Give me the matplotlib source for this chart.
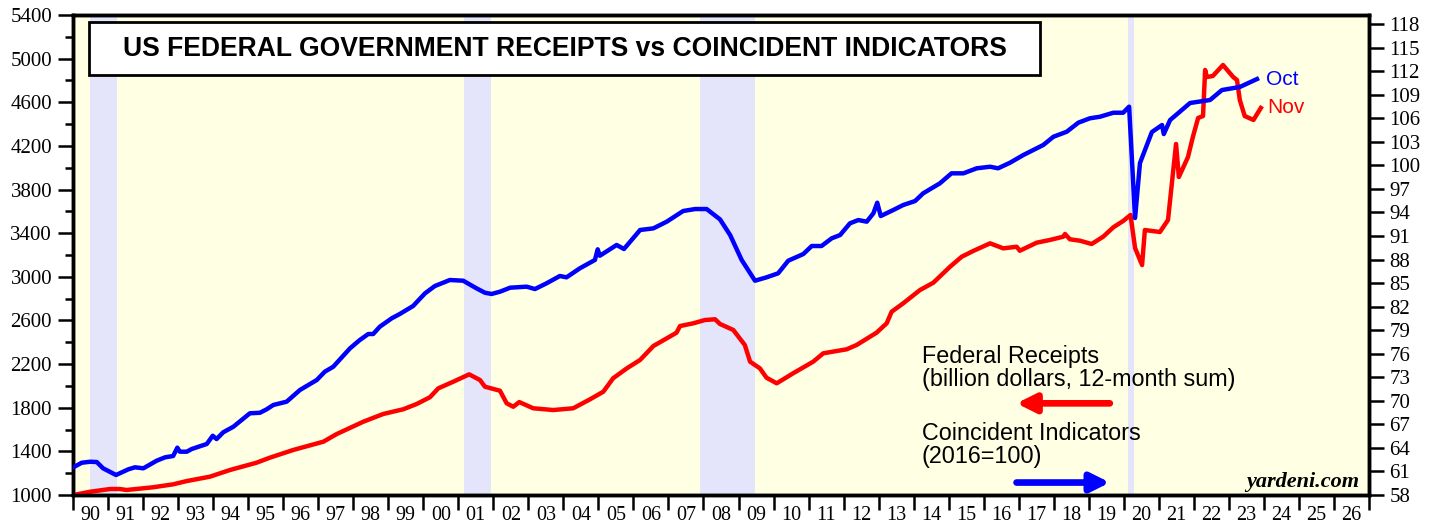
import numpy as np
import matplotlib
matplotlib.use("Agg")
from matplotlib import pyplot as plt
from matplotlib.patches import Rectangle

# Federal receipts, billion dollars 12-month sum (left axis)
receipts_t = [1990.01, 1990.49, 1991.06, 1991.34, 1991.53, 1992.29, 1992.86, 1993.25, 1993.91,
              1994.48, 1995.24, 1995.62, 1996.29, 1997.15, 1997.53, 1998.29, 1998.86, 1999.43,
              1999.81, 2000.19, 2000.43, 2000.86, 2001.31, 2001.62, 2001.76, 2002.19, 2002.38,
              2002.57, 2002.74, 2003.14, 2003.71, 2004.28, 2004.76, 2005.14, 2005.42, 2005.81,
              2006.19, 2006.57, 2006.95, 2007.23, 2007.33, 2007.71, 2008.04, 2008.33, 2008.47,
              2008.85, 2009.18, 2009.33, 2009.61, 2009.80, 2010.09, 2010.28, 2010.56, 2011.13,
              2011.42, 2012.09, 2012.37, 2012.94, 2013.23, 2013.37, 2013.70, 2014.18, 2014.56,
              2015.04, 2015.37, 2015.70, 2016.18, 2016.56, 2016.94, 2017.03, 2017.51, 2017.89,
              2018.27, 2018.32, 2018.46, 2018.75, 2019.08, 2019.41, 2019.70, 2019.98, 2020.19,
              2020.32, 2020.52, 2020.60, 2021.03, 2021.26, 2021.49, 2021.57, 2021.83, 2021.97,
              2022.12, 2022.26, 2022.32, 2022.37, 2022.54, 2022.83, 2023.12, 2023.23, 2023.31,
              2023.45, 2023.70, 2023.91]
receipts = [1000, 1030, 1055, 1055, 1046, 1071, 1098, 1128, 1168,
            1229, 1296, 1342, 1413, 1489, 1559, 1672, 1743, 1786,
            1834, 1896, 1978, 2039, 2106, 2054, 1993, 1956, 1841,
            1809, 1852, 1795, 1779, 1795, 1877, 1947, 2070, 2161,
            2238, 2366, 2436, 2488, 2549, 2574, 2604, 2611, 2568,
            2513, 2375, 2222, 2161, 2075, 2024, 2061, 2116, 2222,
            2299, 2336, 2375, 2488, 2574, 2680, 2757, 2879, 2946,
            3093, 3184, 3237, 3307, 3261, 3276, 3239, 3313, 3338,
            3368, 3393, 3344, 3331, 3301, 3368, 3454, 3512, 3567,
            3264, 3108, 3429, 3411, 3521, 4218, 3915, 4098, 4282,
            4456, 4474, 4896, 4832, 4841, 4942, 4832, 4804, 4621,
            4474, 4438, 4548]

# Coincident indicators, 2016=100 (right axis)
coinc_t = [1990.01, 1990.25, 1990.49, 1990.68, 1990.86, 1991.23, 1991.58, 1991.77, 1992.01,
           1992.39, 1992.63, 1992.86, 1992.98, 1993.05, 1993.25, 1993.39, 1993.82, 1993.99,
           1994.10, 1994.29, 1994.58, 1995.05, 1995.34, 1995.53, 1995.72, 1996.10, 1996.48,
           1996.96, 1997.19, 1997.43, 1997.91, 1998.19, 1998.43, 1998.57, 1998.76, 1999.10,
           1999.33, 1999.71, 2000.05, 2000.33, 2000.76, 2001.14, 2001.52, 2001.76, 2001.95,
           2002.19, 2002.48, 2002.95, 2003.19, 2003.52, 2003.90, 2004.09, 2004.47, 2004.90,
           2004.98, 2005.04, 2005.52, 2005.73, 2006.19, 2006.57, 2006.95, 2007.42, 2007.76,
           2008.09, 2008.47, 2008.76, 2009.09, 2009.47, 2009.80, 2010.13, 2010.42, 2010.85,
           2011.09, 2011.37, 2011.66, 2011.90, 2012.18, 2012.42, 2012.66, 2012.85, 2012.96,
           2013.06, 2013.42, 2013.70, 2014.04, 2014.27, 2014.75, 2015.08, 2015.42, 2015.80,
           2016.18, 2016.41, 2016.75, 2017.13, 2017.70, 2017.99, 2018.37, 2018.70, 2019.03,
           2019.32, 2019.70, 2019.98, 2020.15, 2020.32, 2020.46, 2020.80, 2021.09, 2021.14,
           2021.32, 2021.89, 2022.46, 2022.80, 2023.31, 2023.80]
coinc = [61.53, 62.11, 62.24, 62.20, 61.40, 60.55, 61.27, 61.53, 61.40,
         62.37, 62.80, 62.97, 64.03, 63.52, 63.52, 63.86, 64.50, 65.55,
         65.13, 65.99, 66.70, 68.41, 68.48, 68.92, 69.47, 69.89, 71.38,
         72.65, 73.71, 74.34, 76.69, 77.75, 78.51, 78.51, 79.44, 80.51,
         81.06, 82.08, 83.69, 84.62, 85.39, 85.30, 84.33, 83.77, 83.61,
         83.90, 84.41, 84.54, 84.24, 84.97, 85.90, 85.73, 86.88, 87.94,
         89.30, 88.48, 89.85, 89.34, 91.76, 91.97, 92.82, 94.18, 94.43,
         94.43, 93.12, 91.12, 87.94, 85.30, 85.73, 86.24, 87.85, 88.70,
         89.72, 89.72, 90.70, 91.12, 92.61, 93.03, 92.82, 93.89, 95.24,
         93.54, 94.31, 94.94, 95.45, 96.43, 97.71, 98.98, 98.98, 99.62,
         99.82, 99.62, 100.33, 101.31, 102.59, 103.64, 104.28, 105.43, 105.99,
         106.19, 106.70, 106.70, 107.47, 93.29, 100.29, 104.24, 105.13, 103.98,
         105.77, 107.94, 108.32, 109.59, 109.98, 110.99]

# recessions (start, end)
recessions = [(1990.49, 1991.25), (2001.16, 2001.93), (2007.9, 2009.47), (2020.12, 2020.30)]

years = list(range(1990, 2027))
year_labels = ["%02d" % (y % 100) for y in years]
left_ticks = list(range(1000, 5401, 400))
right_ticks = list(range(58, 119, 3))

RED = "#ff0000"
BLUE = "#0000ff"
serif = "Liberation Serif"
sans = "Liberation Sans"

fig = plt.figure(figsize=(14.39, 5.27), dpi=100)
ax = fig.add_axes([0.0507, 0.0607, 0.9007, 0.9108])
ax.set_facecolor("#ffffe3")
for a, b in recessions:
    ax.axvspan(a, b, color="#e4e4fa", lw=0, zorder=0)

ax.plot(receipts_t, receipts, color=RED, lw=3.2, zorder=3, solid_joinstyle="round")
ax.set_xlim(1990, 2027)
ax.set_ylim(1000, 5400)

ax2 = ax.twinx()
ax2.plot(coinc_t, coinc, color=BLUE, lw=3.2, zorder=3, solid_joinstyle="round")
ax2.set_ylim(58, 58 + 480 * 60 / 471)

# x axis: year ticks, labels centered between them
ax.set_xticks(list(range(1990, 2028)))
ax.set_xticklabels([])
ax.set_xticks([y + 0.5 for y in years], minor=True)
ax.set_xticklabels(year_labels, minor=True, fontfamily=serif, fontsize=14.5)
ax.tick_params(axis="x", which="major", direction="out", length=11, width=1.8)
ax.tick_params(axis="x", which="minor", length=0, pad=8)

ax.set_yticks(left_ticks)
ax.set_yticklabels([str(v) for v in left_ticks], fontfamily=serif, fontsize=15)
ax.set_yticks(list(range(1000, 5401, 200)), minor=True)
ax.tick_params(axis="y", which="major", direction="out", length=11, width=1.8, pad=4)
ax.tick_params(axis="y", which="minor", direction="out", length=5.5, width=1.8)

ax2.set_yticks(right_ticks)
ax2.set_yticklabels([str(v) for v in right_ticks], fontfamily=serif, fontsize=15)
ax2.tick_params(axis="y", direction="out", length=11, width=1.8, pad=3.5)

for a in (ax, ax2):
    for s in a.spines.values():
        s.set_linewidth(2.5)

# title box
ax2.add_patch(Rectangle((0.0123, 0.875), 0.7338, 0.110, transform=ax2.transAxes,
                        facecolor="white", edgecolor="black", lw=2, zorder=5))
ax2.text(0.3796, 0.930, "US FEDERAL GOVERNMENT RECEIPTS vs COINCIDENT INDICATORS",
         transform=ax2.transAxes, ha="center", va="center", fontfamily=sans,
         fontweight="bold", fontsize=19.1, zorder=6)

# legend texts and arrows
ax2.text(0.655, 0.313, "Federal Receipts\n(billion dollars, 12-month sum)", transform=ax2.transAxes,
         ha="left", va="top", fontfamily=sans, fontsize=16.8, linespacing=1.0, zorder=6)
ax2.annotate("", xy=(0.728, 0.191), xytext=(0.800, 0.191), xycoords="axes fraction",
             arrowprops=dict(arrowstyle="-|>", color=RED, lw=4.8, mutation_scale=28,
                             shrinkA=0, shrinkB=0))
ax2.text(0.655, 0.152, "Coincident Indicators\n(2016=100)", transform=ax2.transAxes,
         ha="left", va="top", fontfamily=sans, fontsize=16.8, linespacing=1.0, zorder=6)
ax2.annotate("", xy=(0.800, 0.026), xytext=(0.728, 0.026), xycoords="axes fraction",
             arrowprops=dict(arrowstyle="-|>", color=BLUE, lw=4.8, mutation_scale=28,
                             shrinkA=0, shrinkB=0))

ax2.text(0.9925, 0.016, "yardeni.com", transform=ax2.transAxes, ha="right", va="baseline",
         fontfamily=serif, fontweight="bold", fontstyle="italic", fontsize=16)

# end-of-series labels
ax2.text(2024.05, coinc[-1], "Oct", color=BLUE, fontfamily=sans, fontsize=15,
         ha="left", va="center")
ax.text(2024.1, receipts[-1], "Nov", color=RED, fontfamily=sans, fontsize=15,
        ha="left", va="center", zorder=6)

fig.savefig("out.png", dpi=100)
